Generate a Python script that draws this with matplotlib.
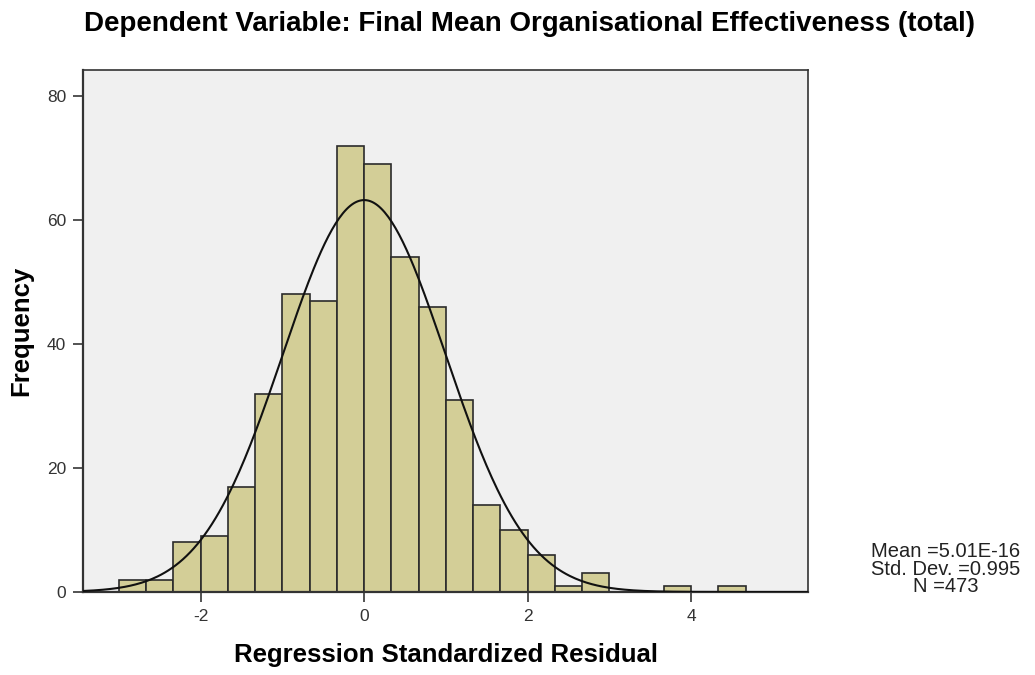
import numpy as np
import matplotlib.pyplot as plt

plt.rcParams['font.family'] = ['Liberation Sans', 'DejaVu Sans']
plt.rcParams['axes.unicode_minus'] = False

# histogram counts, bins of width 1/3 starting at -3
bin_start = -3.0
bin_width = 1.0 / 3.0
counts = [2, 2, 8, 9, 17, 32, 48, 47, 72, 69, 54, 46, 31, 14, 10, 6, 1, 3, 0, 0, 1, 0, 1]

mean = 5.01e-16
sd = 0.995
n_obs = 473

edges = bin_start + bin_width * np.arange(len(counts) + 1)
lefts = edges[:-1]

fig = plt.figure(figsize=(10.35, 6.75), dpi=100)
ax = fig.add_axes([0.0802, 0.123, 0.7005, 0.7733])
ax.set_facecolor('#f0f0f0')

ax.bar(lefts, counts, width=bin_width, align='edge', color='#d3ce97',
       edgecolor='#2b2b2b', linewidth=1.2, zorder=2)

xs = np.linspace(-3.44, 5.43, 400)
ys = n_obs * bin_width / (sd * np.sqrt(2 * np.pi)) * np.exp(-0.5 * ((xs - mean) / sd) ** 2)
ax.plot(xs, ys, color='#111111', linewidth=1.5, zorder=3)

ax.set_xlim(-3.44, 5.43)
ax.set_ylim(0, 84.2)
ax.set_xticks([-2, 0, 2, 4])
ax.set_yticks([0, 20, 40, 60, 80])
ax.tick_params(length=7, width=1.3, color='#444444', labelsize=12.5, labelcolor='#333333', pad=5)
for s in ax.spines.values():
    s.set_color('#333333')
    s.set_linewidth(1.2)
ax.spines['bottom'].set_linewidth(1.6)
ax.spines['left'].set_linewidth(1.6)

ax.set_xlabel('Regression Standardized Residual', fontsize=18.5, fontweight='bold', labelpad=14)
ax.set_ylabel('Frequency', fontsize=18.5, fontweight='bold', labelpad=10)
fig.text(0.512, 0.965, 'Dependent Variable: Final Mean Organisational Effectiveness (total)',
         ha='center', va='center', fontsize=20, fontweight='bold')

fig.text(0.914, 0.157, 'Mean =5.01E-16\nStd. Dev. =0.995\nN =473', ha='center', va='center',
         fontsize=14.5, color='#222222', linespacing=0.88)

fig.savefig('out.png', dpi=100, facecolor='white')
